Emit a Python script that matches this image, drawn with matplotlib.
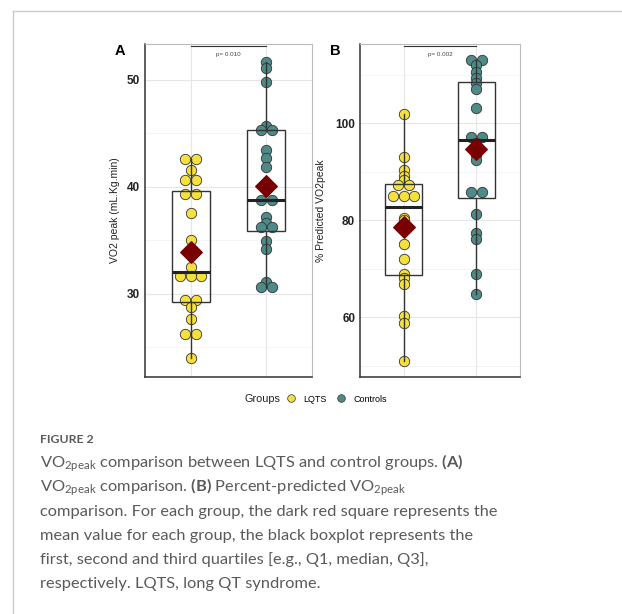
import numpy as np
import matplotlib
matplotlib.use('Agg')
import matplotlib.pyplot as plt
from matplotlib.lines import Line2D

# data
groups = ['LQTS', 'Controls']
vo2_lqts = [42.6, 42.6, 41.6, 40.6, 40.6, 39.3, 39.3, 37.5, 35.0, 32.5,
            31.6, 31.6, 31.6, 29.4, 29.4, 28.7, 27.6, 26.2, 26.2, 24.0]
vo2_ctrl = [51.7, 51.1, 49.8, 45.7, 45.3, 45.3, 43.4, 42.7, 41.8, 38.75,
            38.75, 37.2, 36.6, 36.2, 36.2, 34.9, 34.2, 31.1, 30.65, 30.65]
pct_lqts = [101.9, 93.0, 90.3, 89.2, 88.2, 87.2, 87.2, 85.0, 85.0, 85.0,
            80.4, 80.1, 75.1, 72.1, 69.0, 68.0, 66.9, 60.2, 58.9, 51.0]
pct_ctrl = [113.1, 113.1, 112.0, 110.6, 109.2, 108.2, 107.0, 103.1, 97.1, 97.1,
            96.0, 93.5, 92.5, 85.8, 85.8, 81.2, 77.3, 76.1, 69.0, 64.9]
p_values = ['p= 0.010', 'p= 0.002']
panel_letters = ['A', 'B']
y_labels = ['VO2 peak (mL.Kg.min)', '% Predicted VO2peak']
y_ticks_a = [30, 40, 50]
y_minor_a = [25, 35, 45]
y_ticks_b = [60, 80, 100]
y_minor_b = [50, 70, 90, 110]

caption_head = 'FIGURE 2'
caption_lines = [
    r'$\mathregular{VO_{2peak}}$ comparison between LQTS and control groups. $\mathbf{(A)}$',
    r'$\mathregular{VO_{2peak}}$ comparison. $\mathbf{(B)}$ Percent-predicted $\mathregular{VO_{2peak}}$',
    'comparison. For each group, the dark red square represents the',
    'mean value for each group, the black boxplot represents the',
    'first, second and third quartiles [e.g., Q1, median, Q3],',
    'respectively. LQTS, long QT syndrome.',
]

colors = ['#F5E03C', '#4D8A88']
mean_color = '#780000'

W, H = 622, 614
plt.rcParams['font.family'] = ['Liberation Sans', 'DejaVu Sans']
plt.rcParams['mathtext.fontset'] = 'custom'
plt.rcParams['mathtext.rm'] = 'Lato'
plt.rcParams['mathtext.bf'] = 'Lato:bold'


def tie_offsets(values, step):
    vals = np.array(values)
    offs = np.zeros(len(vals))
    for v in np.unique(vals):
        idx = np.where(vals == v)[0]
        offs[idx] = (np.arange(len(idx)) - (len(idx) - 1) / 2) * step
    return offs


def draw_panel(ax, data, ylim, ticks, minor, ylabel, letter, pval, axw_px):
    ax.set_xlim(0.4, 2.6)
    ax.set_ylim(*ylim)
    for t in minor:
        ax.axhline(t, color='#F2F2F2', lw=0.6, zorder=0)
    for t in ticks:
        ax.axhline(t, color='#E6E6E6', lw=0.8, zorder=0)
    for x in [1, 2]:
        ax.axvline(x, color='#E6E6E6', lw=0.8, zorder=0)

    step = 10.5 * 2.2 / axw_px
    for i, vals in enumerate(data):
        xs = i + 1 + tie_offsets(vals, step)
        ax.scatter(xs, vals, s=56, color=colors[i], edgecolor='#333333',
                   linewidth=0.6, zorder=2)

    ax.boxplot(data, positions=[1, 2], widths=0.5, whis=1.5, showcaps=False,
               showfliers=False, patch_artist=True, zorder=3,
               boxprops=dict(facecolor='none', edgecolor='#333333', linewidth=1.0),
               whiskerprops=dict(color='#333333', linewidth=1.0),
               medianprops=dict(color='#222222', linewidth=2.2))

    means = [np.mean(v) for v in data]
    ax.scatter([1, 2], means, marker='D', s=120, color=mean_color, zorder=4)

    top = ylim[1] - (ylim[1] - ylim[0]) * 0.005
    ax.plot([1, 2], [top, top], color='#333333', lw=0.8, zorder=5, clip_on=False)
    ax.text(1.5, top - (ylim[1] - ylim[0]) * 0.018, pval, ha='center', va='top',
            fontsize=4.5, color='#444444')

    ax.set_xticks([])
    ax.set_yticks(ticks)
    ax.set_yticklabels([str(t) for t in ticks], fontweight='bold', fontsize=8.5)
    ax.tick_params(axis='y', length=0, pad=3.5, colors='#222222')
    ax.set_ylabel(ylabel, fontsize=7.5, color='#222222')
    for s in ['left', 'bottom']:
        ax.spines[s].set_color('#333333')
        ax.spines[s].set_linewidth(1.1)
    for s in ['top', 'right']:
        ax.spines[s].set_color('#BBBBBB')
        ax.spines[s].set_linewidth(0.8)
    ax.text(-0.12, 1.0, letter, transform=ax.transAxes, fontsize=10.5,
            fontweight='bold', ha='right', va='top')


fig = plt.figure(figsize=(W / 100, H / 100), dpi=100)

ax_a = fig.add_axes([145 / W, 1 - 377 / H, 167 / W, 333 / H])
ax_b = fig.add_axes([360 / W, 1 - 377 / H, 160 / W, 333 / H])

draw_panel(ax_a, [vo2_lqts, vo2_ctrl], (22.2, 53.34), y_ticks_a, y_minor_a,
           y_labels[0], panel_letters[0], p_values[0], 167)
draw_panel(ax_b, [pct_lqts, pct_ctrl], (47.7, 116.3), y_ticks_b, y_minor_b,
           y_labels[1], panel_letters[1], p_values[1], 160)
ax_a.yaxis.set_label_coords(-0.15, 0.5)
ax_b.yaxis.set_label_coords(-0.2125, 0.5)

# legend below the panels
fig.text(280 / W, 1 - 399 / H, 'Groups', fontsize=7.8, ha='right', va='center',
         color='#222222')
handles = [Line2D([], [], marker='o', ls='none', markersize=5.5, markerfacecolor=c,
                  markeredgecolor='#333333', markeredgewidth=0.5) for c in colors]
fig.legend(handles, groups, loc='center left', bbox_to_anchor=(286 / W, 1 - 399 / H),
           ncol=2, frameon=False, fontsize=6.5, handletextpad=0.9,
           columnspacing=1.1, handlelength=1.0, borderpad=0, borderaxespad=0)

# frame lines and caption
fig.add_artist(Line2D([13 / W, 13 / W], [0, 1 - 11 / H], transform=fig.transFigure,
                      color='#CCCCCC', lw=1))
fig.add_artist(Line2D([13 / W, 1], [1 - 11 / H, 1 - 11 / H], transform=fig.transFigure,
                      color='#CCCCCC', lw=1))
fig.text(40 / W, 1 - 443 / H, caption_head, fontsize=8.8, fontfamily='Lato',
         fontweight='bold', color='#5A5A5A', va='baseline')
for i, line in enumerate(caption_lines):
    fig.text(40 / W, 1 - (468 + 24 * i) / H, line, fontsize=11.75, fontfamily='Lato',
             color='#5A5A5A', va='baseline')

fig.savefig('out.png', dpi=100)
